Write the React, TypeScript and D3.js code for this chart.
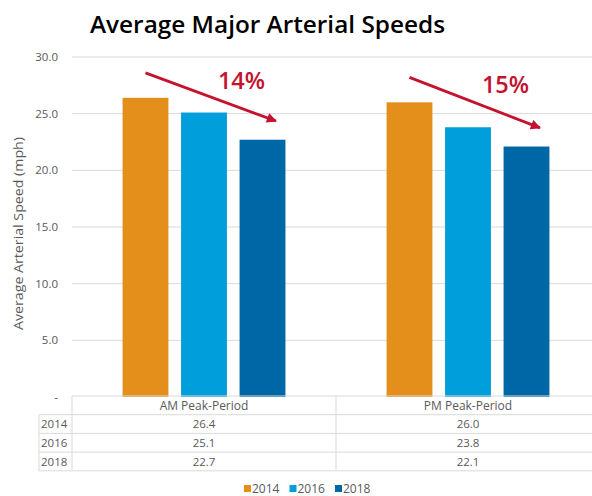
import React from "react";
import * as d3 from "d3";

const categories = ["AM Peak-Period", "PM Peak-Period"];
const seriesNames = ["2014", "2016", "2018"];
const values2014 = [26.4, 26.0];
const values2016 = [25.1, 23.8];
const values2018 = [22.7, 22.1];
const yTicks = [0, 5, 10, 15, 20, 25, 30];
const changeLabels = ["14%", "15%"];
const colors = ["#E48F1C", "#009FDC", "#0067A7"];

const W = 592;
const H = 496;
const FONT = "'Open Sans', 'Lato', sans-serif";
const GRAY = "#595959";
const LINE = "#d9d9d9";
const RED = "#C4122F";

export default function App() {
  const series = [values2014, values2016, values2018];
  const y = d3.scaleLinear().domain([0, 30]).range([397, 57]);
  const x = d3.scaleBand<string>().domain(categories).range([72, 600]);
  const xs = d3
    .scaleBand<string>()
    .domain(seriesNames)
    .range([0, x.bandwidth()])
    .paddingInner(0.216)
    .paddingOuter(0.864);
  const bw = xs.bandwidth();
  const tableTop = 396;
  const rowH = 18.7;
  const tableLeft = 39;
  const rows = [tableTop, tableTop + rowH, tableTop + 2 * rowH, tableTop + 3 * rowH, tableTop + 4 * rowH];

  return (
    <svg width={W} height={H} style={{ display: "block", position: "absolute", left: 0, top: 0 }}>
      <rect width={W} height={H} fill="#fff" />
      <text x={90} y={33} fontFamily={FONT} fontWeight={600} fontSize={23} fill="#000" textLength={355} lengthAdjust="spacingAndGlyphs">
        Average Major Arterial Speeds
      </text>
      {yTicks.map((t) => (
        <g key={t}>
          {t > 0 && <line x1={72} x2={600} y1={y(t)} y2={y(t)} stroke={LINE} strokeWidth={1} />}
          <text x={58} y={y(t) + 4} textAnchor="end" fontFamily={FONT} fontSize={11.5} fill={GRAY}>
            {t === 0 ? "-" : d3.format(".1f")(t)}
          </text>
        </g>
      ))}
      <text
        transform={`translate(23,233.5) rotate(-90)`}
        textAnchor="middle"
        fontFamily={FONT}
        fontSize={12.5}
        fill={GRAY}
        textLength={193}
        lengthAdjust="spacingAndGlyphs"
      >
        Average Arterial Speed (mph)
      </text>
      {categories.map((c, ci) =>
        seriesNames.map((s, si) => {
          const v = series[si][ci];
          return (
            <rect
              key={c + s}
              x={(x(c) as number) + (xs(s) as number)}
              y={y(v)}
              width={bw}
              height={y(0) - y(v)}
              fill={colors[si]}
            />
          );
        })
      )}
      <defs>
        <marker id="ah" viewBox="0 0 10 10" refX={9} refY={5} markerWidth={4.2} markerHeight={3.6} orient="auto" markerUnits="strokeWidth">
          <path d="M0,0 L10,5 L0,10 z" fill={RED} />
        </marker>
      </defs>
      {categories.map((c, ci) => {
        const x0 = (x(c) as number) + (xs("2014") as number) + bw / 2;
        const x1 = (x(c) as number) + (xs("2018") as number) + bw / 2 + 13.5;
        const y0 = y(values2014[ci] + 2.2);
        const y1 = y(values2018[ci] + 1.65);
        const lx = (x(c) as number) + (xs("2016") as number) + bw / 2 + 37.5;
        return (
          <g key={"a" + c}>
            <line x1={x0} y1={y0} x2={x1} y2={y1} stroke={RED} strokeWidth={2.8} markerEnd="url(#ah)" />
            <text x={lx} y={y(values2014[ci] + 0.8)} textAnchor="middle" fontFamily={FONT} fontWeight={600} fontSize={23.5} fill={RED}>
              {changeLabels[ci]}
            </text>
          </g>
        );
      })}
      {/* table */}
      <line x1={72} x2={600} y1={rows[0]} y2={rows[0]} stroke={LINE} />
      {rows.slice(1).map((r, i) => (
        <line key={i} x1={tableLeft} x2={600} y1={r} y2={r} stroke={LINE} />
      ))}
      <line x1={tableLeft} x2={tableLeft} y1={rows[1]} y2={rows[4]} stroke={LINE} />
      <line x1={72} x2={72} y1={rows[0]} y2={rows[4]} stroke={LINE} />
      <line x1={336} x2={336} y1={rows[0]} y2={rows[4]} stroke={LINE} />
      {categories.map((c) => (
        <text key={"h" + c} x={(x(c) as number) + x.bandwidth() / 2} y={rows[0] + 13.5} textAnchor="middle" fontFamily={FONT} fontSize={12} fill={GRAY}>
          {c}
        </text>
      ))}
      {seriesNames.map((s, si) => (
        <g key={"r" + s}>
          <text x={tableLeft + 2} y={rows[si + 1] + 13.5} fontFamily={FONT} fontSize={11.5} fill={GRAY}>
            {s}
          </text>
          {categories.map((c, ci) => (
            <text key={c} x={(x(c) as number) + x.bandwidth() / 2} y={rows[si + 1] + 13.5} textAnchor="middle" fontFamily={FONT} fontSize={11.5} fill={GRAY}>
              {d3.format(".1f")(series[si][ci])}
            </text>
          ))}
        </g>
      ))}
      {/* legend */}
      {seriesNames.map((s, si) => {
        const lx = 244 + si * 45.5;
        return (
          <g key={"l" + s}>
            <rect x={lx} y={485} width={7} height={7} fill={colors[si]} />
            <text x={lx + 8} y={493} fontFamily={FONT} fontSize={12} fill={GRAY}>
              {s}
            </text>
          </g>
        );
      })}
    </svg>
  );
}
